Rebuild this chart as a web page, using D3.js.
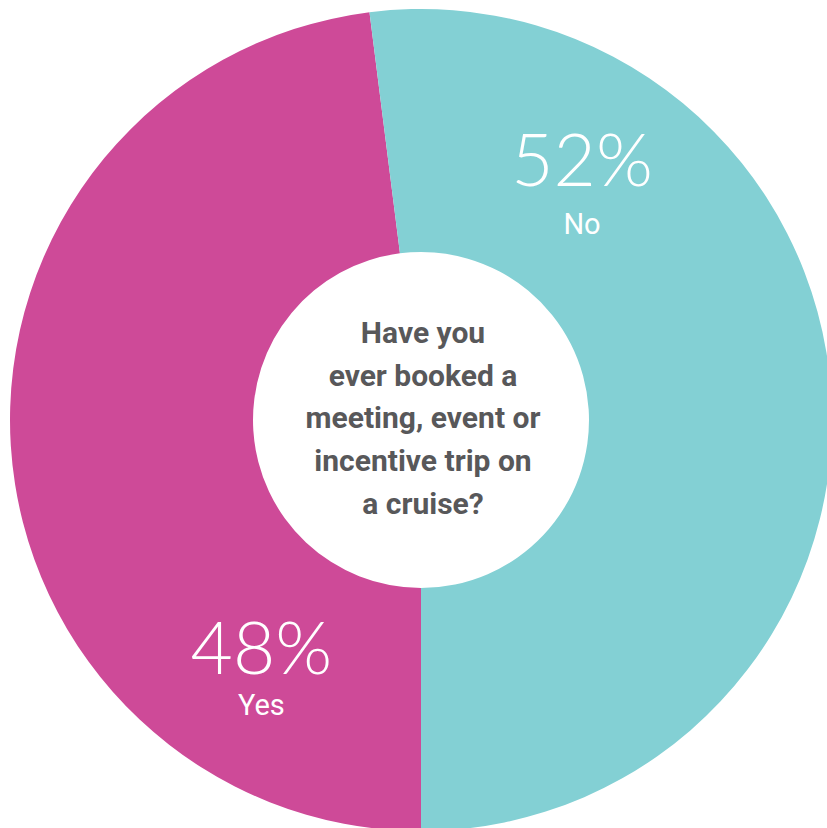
<!DOCTYPE html>
<html>
<head>
<meta charset="utf-8">
<script src="https://cdn.jsdelivr.net/npm/d3@7"></script>
<style>
  html, body { margin: 0; padding: 0; background: #ffffff; }
  svg { display: block; }
</style>
</head>
<body>
<svg id="chart" width="827" height="828"></svg>
<script>
// Survey answers, in drawing order starting from the bottom of the ring
const answers = ["Yes", "No"];
const shares = [48, 52];
const sliceColors = ["#CE4A98", "#83D0D4"];
const questionLines = ["Have you", "ever booked a", "meeting, event or", "incentive trip on", "a cruise?"];

const cx = 421, cy = 420;
const outerR = 411, innerR = 168;

const svg = d3.select("#chart");
const g = svg.append("g").attr("transform", `translate(${cx},${cy})`);

const data = answers.map((a, i) => ({ answer: a, value: shares[i], color: sliceColors[i] }));

const pie = d3.pie()
  .sort(null)
  .value(d => d.value)
  .startAngle(Math.PI)
  .endAngle(3 * Math.PI);

const arc = d3.arc().innerRadius(innerR).outerRadius(outerR);
const arcs = pie(data);

g.selectAll("path.slice")
  .data(arcs)
  .join("path")
  .attr("class", "slice")
  .attr("d", arc)
  .attr("fill", d => d.data.color);

// Labels sit in the wide part of each slice, near its leading edge
const labelPlacement = {
  Yes: { t: 0.186, r: 300, gap: 41 },
  No: { t: 0.223, r: 284, gap: 48 }
};

const labelGroups = g.selectAll("g.label")
  .data(arcs)
  .join("g")
  .attr("class", "label")
  .attr("transform", d => {
    const p = labelPlacement[d.data.answer];
    const a = d.startAngle + p.t * (d.endAngle - d.startAngle);
    return `translate(${Math.sin(a) * p.r},${-Math.cos(a) * p.r})`;
  });

labelGroups.append("text")
  .attr("text-anchor", "middle")
  .attr("fill", "#ffffff")
  .attr("font-family", "Lato, 'Open Sans', sans-serif")
  .attr("font-weight", 300)
  .attr("font-size", 73)
  .text(d => d.data.value + "%");

labelGroups.append("text")
  .attr("text-anchor", "middle")
  .attr("y", d => labelPlacement[d.data.answer].gap)
  .attr("fill", "#ffffff")
  .attr("font-family", "Roboto, 'Open Sans', sans-serif")
  .attr("font-weight", 400)
  .attr("font-size", 29)
  .text(d => d.data.answer);

// Question in the centre hole
const q = g.append("text")
  .attr("text-anchor", "middle")
  .attr("fill", "#58585A")
  .attr("font-family", "Roboto, 'Open Sans', sans-serif")
  .attr("font-weight", 700)
  .attr("font-size", 30);

questionLines.forEach((line, i) => {
  q.append("tspan")
    .attr("x", 2)
    .attr("y", -77 + i * 42.7)
    .text(line);
});
</script>
</body>
</html>
